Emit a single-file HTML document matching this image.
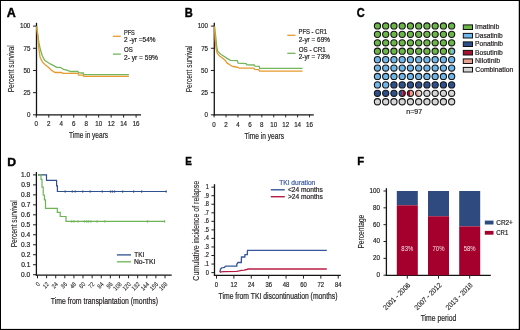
<!DOCTYPE html>
<html><head><meta charset="utf-8"><style>
html,body{margin:0;padding:0;background:#fff;}
svg{display:block;will-change:transform;}
svg{font-family:"Liberation Sans",sans-serif;}
</style></head><body>
<svg width="520" height="330" viewBox="0 0 520 330">
<rect x="0" y="0" width="520" height="330" fill="#000"/>
<rect x="1" y="1" width="517.75" height="327.9" fill="#fff"/>
<text x="6.89" y="16.5" font-size="12.2" font-weight="bold" fill="#000" stroke="#000" stroke-width="0.4" textLength="9.04" lengthAdjust="spacingAndGlyphs">A</text>
<line x1="36.49" y1="22.8" x2="36.49" y2="115.43" stroke="#141414" stroke-width="1.3"/>
<line x1="35.89" y1="114.83" x2="141" y2="114.83" stroke="#141414" stroke-width="1.3"/>
<line x1="33" y1="114.83" x2="36.49" y2="114.83" stroke="#231f20" stroke-width="1"/>
<text x="26.88" y="117.13" font-size="7.6" fill="#231f20" stroke="#231f20" stroke-width="0.2" textLength="3.47" lengthAdjust="spacingAndGlyphs">0</text>
<line x1="33" y1="92.65" x2="36.49" y2="92.65" stroke="#231f20" stroke-width="1"/>
<text x="23.43" y="94.95" font-size="7.6" fill="#231f20" stroke="#231f20" stroke-width="0.2" textLength="6.93" lengthAdjust="spacingAndGlyphs">25</text>
<line x1="33" y1="70.47" x2="36.49" y2="70.47" stroke="#231f20" stroke-width="1"/>
<text x="23.41" y="72.77" font-size="7.6" fill="#231f20" stroke="#231f20" stroke-width="0.2" textLength="6.93" lengthAdjust="spacingAndGlyphs">50</text>
<line x1="33" y1="48.28" x2="36.49" y2="48.28" stroke="#231f20" stroke-width="1"/>
<text x="23.43" y="50.58" font-size="7.6" fill="#231f20" stroke="#231f20" stroke-width="0.2" textLength="6.93" lengthAdjust="spacingAndGlyphs">75</text>
<line x1="33" y1="26.1" x2="36.49" y2="26.1" stroke="#231f20" stroke-width="1"/>
<text x="19.95" y="28.4" font-size="7.6" fill="#231f20" stroke="#231f20" stroke-width="0.2" textLength="10.4" lengthAdjust="spacingAndGlyphs">100</text>
<line x1="36.3" y1="114.83" x2="36.3" y2="117.6" stroke="#231f20" stroke-width="1"/>
<text x="34.57" y="126.3" font-size="7.6" fill="#231f20" stroke="#231f20" stroke-width="0.2" textLength="3.47" lengthAdjust="spacingAndGlyphs">0</text>
<line x1="48.77" y1="114.83" x2="48.77" y2="117.6" stroke="#231f20" stroke-width="1"/>
<text x="47.04" y="126.3" font-size="7.6" fill="#231f20" stroke="#231f20" stroke-width="0.2" textLength="3.47" lengthAdjust="spacingAndGlyphs">2</text>
<line x1="61.25" y1="114.83" x2="61.25" y2="117.6" stroke="#231f20" stroke-width="1"/>
<text x="59.52" y="126.3" font-size="7.6" fill="#231f20" stroke="#231f20" stroke-width="0.2" textLength="3.47" lengthAdjust="spacingAndGlyphs">4</text>
<line x1="73.72" y1="114.83" x2="73.72" y2="117.6" stroke="#231f20" stroke-width="1"/>
<text x="71.99" y="126.3" font-size="7.6" fill="#231f20" stroke="#231f20" stroke-width="0.2" textLength="3.47" lengthAdjust="spacingAndGlyphs">6</text>
<line x1="86.2" y1="114.83" x2="86.2" y2="117.6" stroke="#231f20" stroke-width="1"/>
<text x="84.47" y="126.3" font-size="7.6" fill="#231f20" stroke="#231f20" stroke-width="0.2" textLength="3.47" lengthAdjust="spacingAndGlyphs">8</text>
<line x1="98.67" y1="114.83" x2="98.67" y2="117.6" stroke="#231f20" stroke-width="1"/>
<text x="95.21" y="126.3" font-size="7.6" fill="#231f20" stroke="#231f20" stroke-width="0.2" textLength="6.93" lengthAdjust="spacingAndGlyphs">10</text>
<line x1="111.15" y1="114.83" x2="111.15" y2="117.6" stroke="#231f20" stroke-width="1"/>
<text x="107.68" y="126.3" font-size="7.6" fill="#231f20" stroke="#231f20" stroke-width="0.2" textLength="6.93" lengthAdjust="spacingAndGlyphs">12</text>
<line x1="123.62" y1="114.83" x2="123.62" y2="117.6" stroke="#231f20" stroke-width="1"/>
<text x="120.16" y="126.3" font-size="7.6" fill="#231f20" stroke="#231f20" stroke-width="0.2" textLength="6.93" lengthAdjust="spacingAndGlyphs">14</text>
<line x1="136.1" y1="114.83" x2="136.1" y2="117.6" stroke="#231f20" stroke-width="1"/>
<text x="132.63" y="126.3" font-size="7.6" fill="#231f20" stroke="#231f20" stroke-width="0.2" textLength="6.93" lengthAdjust="spacingAndGlyphs">16</text>
<text x="69.05" y="138.4" font-size="8.7" fill="#231f20" stroke="#231f20" stroke-width="0.2" textLength="39.08" lengthAdjust="spacingAndGlyphs">Time in years</text>
<text transform="translate(14.4,92.34) rotate(-90)" x="0" y="0" font-size="8.8" fill="#231f20" stroke="#231f20" stroke-width="0.12" textLength="47.09" lengthAdjust="spacingAndGlyphs">Percent survival</text>
<line x1="112.9" y1="36.3" x2="120.8" y2="36.3" stroke="#e89a2c" stroke-width="1.3"/>
<line x1="112.9" y1="54.1" x2="120.8" y2="54.1" stroke="#74b55c" stroke-width="1.3"/>
<text x="123.94" y="34.5" font-size="6.6" fill="#231f20" stroke="#231f20" stroke-width="0.2" textLength="10.92" lengthAdjust="spacingAndGlyphs">PFS</text>
<text x="124.07" y="42.4" font-size="6.6" fill="#231f20" stroke="#231f20" stroke-width="0.2" textLength="31.46" lengthAdjust="spacingAndGlyphs">2 -yr =54%</text>
<text x="124.11" y="52" font-size="6.6" fill="#231f20" stroke="#231f20" stroke-width="0.2" textLength="8.77" lengthAdjust="spacingAndGlyphs">OS</text>
<text x="124.07" y="60.2" font-size="6.6" fill="#231f20" stroke="#231f20" stroke-width="0.2" textLength="33.87" lengthAdjust="spacingAndGlyphs">2- yr = 59%</text>
<path d="M36.5 26.5 L36.7 26.7 L37.8 34.6 L38.8 42.2 L40.4 49.8 L42.3 55.8 L44.6 60.4 L47.6 62.2 L50.7 64.2 L53.7 65.7 L55.5 66.6 L56.7 67.3 L60.1 67.3 L63.5 69.4 L66.8 70.2 L70.7 71.5 L77.9 71.5 L78.8 72.8 L83.2 73 L83.8 74.7 L128.9 74.7" fill="none" stroke="#74b55c" stroke-width="1.3" stroke-linejoin="miter"/>
<path d="M36.5 26.5 L36.7 26.7 L37.8 37.6 L38.8 48.2 L40.1 57.3 L42.3 61.9 L45.4 64.9 L48.4 67.2 L51.4 70.2 L55.2 72.5 L61.5 72.5 L63 73.4 L77.9 73.4 L78.8 75.2 L83.2 75.2 L83.7 76.3 L128.9 76.3" fill="none" stroke="#e89a2c" stroke-width="1.3" stroke-linejoin="miter"/>
<text x="184.65" y="16.5" font-size="12.2" font-weight="bold" fill="#000" stroke="#000" stroke-width="0.4" textLength="8.05" lengthAdjust="spacingAndGlyphs">B</text>
<line x1="214.28" y1="22.8" x2="214.28" y2="115.43" stroke="#141414" stroke-width="1.3"/>
<line x1="213.68" y1="114.83" x2="313.8" y2="114.83" stroke="#141414" stroke-width="1.3"/>
<line x1="210.9" y1="114.83" x2="214.28" y2="114.83" stroke="#231f20" stroke-width="1"/>
<text x="204.58" y="117.13" font-size="7.6" fill="#231f20" stroke="#231f20" stroke-width="0.2" textLength="3.47" lengthAdjust="spacingAndGlyphs">0</text>
<line x1="210.9" y1="92.65" x2="214.28" y2="92.65" stroke="#231f20" stroke-width="1"/>
<text x="201.13" y="94.95" font-size="7.6" fill="#231f20" stroke="#231f20" stroke-width="0.2" textLength="6.93" lengthAdjust="spacingAndGlyphs">25</text>
<line x1="210.9" y1="70.47" x2="214.28" y2="70.47" stroke="#231f20" stroke-width="1"/>
<text x="201.11" y="72.77" font-size="7.6" fill="#231f20" stroke="#231f20" stroke-width="0.2" textLength="6.93" lengthAdjust="spacingAndGlyphs">50</text>
<line x1="210.9" y1="48.28" x2="214.28" y2="48.28" stroke="#231f20" stroke-width="1"/>
<text x="201.13" y="50.58" font-size="7.6" fill="#231f20" stroke="#231f20" stroke-width="0.2" textLength="6.93" lengthAdjust="spacingAndGlyphs">75</text>
<line x1="210.9" y1="26.1" x2="214.28" y2="26.1" stroke="#231f20" stroke-width="1"/>
<text x="197.65" y="28.4" font-size="7.6" fill="#231f20" stroke="#231f20" stroke-width="0.2" textLength="10.4" lengthAdjust="spacingAndGlyphs">100</text>
<line x1="214.1" y1="114.83" x2="214.1" y2="117.3" stroke="#231f20" stroke-width="1"/>
<text x="212.37" y="126.6" font-size="7.6" fill="#231f20" stroke="#231f20" stroke-width="0.2" textLength="3.47" lengthAdjust="spacingAndGlyphs">0</text>
<line x1="226.03" y1="114.83" x2="226.03" y2="117.3" stroke="#231f20" stroke-width="1"/>
<text x="224.3" y="126.6" font-size="7.6" fill="#231f20" stroke="#231f20" stroke-width="0.2" textLength="3.47" lengthAdjust="spacingAndGlyphs">2</text>
<line x1="237.96" y1="114.83" x2="237.96" y2="117.3" stroke="#231f20" stroke-width="1"/>
<text x="236.23" y="126.6" font-size="7.6" fill="#231f20" stroke="#231f20" stroke-width="0.2" textLength="3.47" lengthAdjust="spacingAndGlyphs">4</text>
<line x1="249.89" y1="114.83" x2="249.89" y2="117.3" stroke="#231f20" stroke-width="1"/>
<text x="248.16" y="126.6" font-size="7.6" fill="#231f20" stroke="#231f20" stroke-width="0.2" textLength="3.47" lengthAdjust="spacingAndGlyphs">6</text>
<line x1="261.82" y1="114.83" x2="261.82" y2="117.3" stroke="#231f20" stroke-width="1"/>
<text x="260.09" y="126.6" font-size="7.6" fill="#231f20" stroke="#231f20" stroke-width="0.2" textLength="3.47" lengthAdjust="spacingAndGlyphs">8</text>
<line x1="273.75" y1="114.83" x2="273.75" y2="117.3" stroke="#231f20" stroke-width="1"/>
<text x="270.28" y="126.6" font-size="7.6" fill="#231f20" stroke="#231f20" stroke-width="0.2" textLength="6.93" lengthAdjust="spacingAndGlyphs">10</text>
<line x1="285.68" y1="114.83" x2="285.68" y2="117.3" stroke="#231f20" stroke-width="1"/>
<text x="282.21" y="126.6" font-size="7.6" fill="#231f20" stroke="#231f20" stroke-width="0.2" textLength="6.93" lengthAdjust="spacingAndGlyphs">12</text>
<line x1="297.61" y1="114.83" x2="297.61" y2="117.3" stroke="#231f20" stroke-width="1"/>
<text x="294.14" y="126.6" font-size="7.6" fill="#231f20" stroke="#231f20" stroke-width="0.2" textLength="6.93" lengthAdjust="spacingAndGlyphs">14</text>
<line x1="309.54" y1="114.83" x2="309.54" y2="117.3" stroke="#231f20" stroke-width="1"/>
<text x="306.07" y="126.6" font-size="7.6" fill="#231f20" stroke="#231f20" stroke-width="0.2" textLength="6.93" lengthAdjust="spacingAndGlyphs">16</text>
<text x="244.45" y="138.5" font-size="8.7" fill="#231f20" stroke="#231f20" stroke-width="0.2" textLength="39.54" lengthAdjust="spacingAndGlyphs">Time in years</text>
<text transform="translate(192.1,92.34) rotate(-90)" x="0" y="0" font-size="8.8" fill="#231f20" stroke="#231f20" stroke-width="0.12" textLength="46.78" lengthAdjust="spacingAndGlyphs">Percent survival</text>
<line x1="287.3" y1="35.3" x2="295.5" y2="35.3" stroke="#e89a2c" stroke-width="1.3"/>
<line x1="287.3" y1="53.3" x2="295.5" y2="53.3" stroke="#74b55c" stroke-width="1.3"/>
<text x="298.52" y="33.9" font-size="6.6" fill="#231f20" stroke="#231f20" stroke-width="0.2" textLength="28.47" lengthAdjust="spacingAndGlyphs">PFS - CR1</text>
<text x="298.68" y="42" font-size="6.6" fill="#231f20" stroke="#231f20" stroke-width="0.2" textLength="31.25" lengthAdjust="spacingAndGlyphs">2-yr = 69%</text>
<text x="298.7" y="51.5" font-size="6.6" fill="#231f20" stroke="#231f20" stroke-width="0.2" textLength="27.1" lengthAdjust="spacingAndGlyphs">OS - CR1</text>
<text x="298.68" y="59" font-size="6.6" fill="#231f20" stroke="#231f20" stroke-width="0.2" textLength="31.25" lengthAdjust="spacingAndGlyphs">2-yr = 73%</text>
<path d="M214.5 26.5 L215.4 33.5 L216.1 40.4 L216.8 47.2 L217.7 51.3 L219.5 53.3 L221.5 54.7 L224.3 56.5 L227 58.4 L230.4 60.3 L237.3 60.6 L238.1 63.1 L246.2 63.6 L246.9 64.8 L254.2 65 L255 66.2 L259.2 66.3 L259.6 68.3 L302.5 68.3" fill="none" stroke="#74b55c" stroke-width="1.3" stroke-linejoin="miter"/>
<path d="M214.5 26.5 L215 37.6 L216.1 48.6 L217.2 53.3 L219.5 56 L222.2 57.8 L225 60.2 L227 62.9 L229.7 64.7 L232.3 66.5 L235.9 67 L238.1 67.3 L239.2 68.2 L253.8 68.2 L254.6 69.4 L258.8 69.6 L259.6 71.2 L302.5 71.2" fill="none" stroke="#e89a2c" stroke-width="1.3" stroke-linejoin="miter"/>
<text x="356.85" y="16.7" font-size="12.2" font-weight="bold" fill="#000" stroke="#000" stroke-width="0.4" textLength="7.95" lengthAdjust="spacingAndGlyphs">C</text>
<circle cx="377.45" cy="25.95" r="3.1" fill="#6ab647" stroke="#161616" stroke-width="1.1"/>
<circle cx="385.69" cy="25.95" r="3.1" fill="#6ab647" stroke="#161616" stroke-width="1.1"/>
<circle cx="393.94" cy="25.95" r="3.1" fill="#6ab647" stroke="#161616" stroke-width="1.1"/>
<circle cx="402.19" cy="25.95" r="3.1" fill="#6ab647" stroke="#161616" stroke-width="1.1"/>
<circle cx="410.43" cy="25.95" r="3.1" fill="#6ab647" stroke="#161616" stroke-width="1.1"/>
<circle cx="418.67" cy="25.95" r="3.1" fill="#6ab647" stroke="#161616" stroke-width="1.1"/>
<circle cx="426.92" cy="25.95" r="3.1" fill="#6ab647" stroke="#161616" stroke-width="1.1"/>
<circle cx="435.16" cy="25.95" r="3.1" fill="#6ab647" stroke="#161616" stroke-width="1.1"/>
<circle cx="443.41" cy="25.95" r="3.1" fill="#6ab647" stroke="#161616" stroke-width="1.1"/>
<circle cx="451.65" cy="25.95" r="3.1" fill="#6ab647" stroke="#161616" stroke-width="1.1"/>
<circle cx="377.45" cy="34.37" r="3.1" fill="#6ab647" stroke="#161616" stroke-width="1.1"/>
<circle cx="385.69" cy="34.37" r="3.1" fill="#6ab647" stroke="#161616" stroke-width="1.1"/>
<circle cx="393.94" cy="34.37" r="3.1" fill="#6ab647" stroke="#161616" stroke-width="1.1"/>
<circle cx="402.19" cy="34.37" r="3.1" fill="#6ab647" stroke="#161616" stroke-width="1.1"/>
<circle cx="410.43" cy="34.37" r="3.1" fill="#6ab647" stroke="#161616" stroke-width="1.1"/>
<circle cx="418.67" cy="34.37" r="3.1" fill="#6ab647" stroke="#161616" stroke-width="1.1"/>
<circle cx="426.92" cy="34.37" r="3.1" fill="#6ab647" stroke="#161616" stroke-width="1.1"/>
<circle cx="435.16" cy="34.37" r="3.1" fill="#6ab647" stroke="#161616" stroke-width="1.1"/>
<circle cx="443.41" cy="34.37" r="3.1" fill="#6ab647" stroke="#161616" stroke-width="1.1"/>
<circle cx="451.65" cy="34.37" r="3.1" fill="#6ab647" stroke="#161616" stroke-width="1.1"/>
<circle cx="377.45" cy="42.79" r="3.1" fill="#6ab647" stroke="#161616" stroke-width="1.1"/>
<circle cx="385.69" cy="42.79" r="3.1" fill="#6ab647" stroke="#161616" stroke-width="1.1"/>
<circle cx="393.94" cy="42.79" r="3.1" fill="#6ab647" stroke="#161616" stroke-width="1.1"/>
<circle cx="402.19" cy="42.79" r="3.1" fill="#6ab647" stroke="#161616" stroke-width="1.1"/>
<circle cx="410.43" cy="42.79" r="3.1" fill="#6ab647" stroke="#161616" stroke-width="1.1"/>
<circle cx="418.67" cy="42.79" r="3.1" fill="#6ab647" stroke="#161616" stroke-width="1.1"/>
<circle cx="426.92" cy="42.79" r="3.1" fill="#6ab647" stroke="#161616" stroke-width="1.1"/>
<circle cx="435.16" cy="42.79" r="3.1" fill="#6ab647" stroke="#161616" stroke-width="1.1"/>
<circle cx="443.41" cy="42.79" r="3.1" fill="#6ab647" stroke="#161616" stroke-width="1.1"/>
<circle cx="451.65" cy="42.79" r="3.1" fill="#6ab647" stroke="#161616" stroke-width="1.1"/>
<circle cx="377.45" cy="51.21" r="3.1" fill="#6ab647" stroke="#161616" stroke-width="1.1"/>
<circle cx="385.69" cy="51.21" r="3.1" fill="#6ab647" stroke="#161616" stroke-width="1.1"/>
<circle cx="393.94" cy="51.21" r="3.1" fill="#6ab647" stroke="#161616" stroke-width="1.1"/>
<circle cx="402.19" cy="51.21" r="3.1" fill="#6ab647" stroke="#161616" stroke-width="1.1"/>
<circle cx="410.43" cy="51.21" r="3.1" fill="#6ab647" stroke="#161616" stroke-width="1.1"/>
<circle cx="418.67" cy="51.21" r="3.1" fill="#6ab647" stroke="#161616" stroke-width="1.1"/>
<circle cx="426.92" cy="51.21" r="3.1" fill="#6ab647" stroke="#161616" stroke-width="1.1"/>
<circle cx="435.16" cy="51.21" r="3.1" fill="#6ab647" stroke="#161616" stroke-width="1.1"/>
<circle cx="443.41" cy="51.21" r="3.1" fill="#6ab647" stroke="#161616" stroke-width="1.1"/>
<path d="M451.65 48.11 A3.1 3.1 0 0 0 451.65 54.31 Z" fill="#6ab647"/>
<path d="M451.65 48.11 A3.1 3.1 0 0 1 451.65 54.31 Z" fill="#6fb6ea"/>
<circle cx="451.65" cy="51.21" r="3.1" fill="none" stroke="#161616" stroke-width="1.1"/>
<circle cx="377.45" cy="59.63" r="3.1" fill="#6fb6ea" stroke="#161616" stroke-width="1.1"/>
<circle cx="385.69" cy="59.63" r="3.1" fill="#6fb6ea" stroke="#161616" stroke-width="1.1"/>
<circle cx="393.94" cy="59.63" r="3.1" fill="#6fb6ea" stroke="#161616" stroke-width="1.1"/>
<circle cx="402.19" cy="59.63" r="3.1" fill="#6fb6ea" stroke="#161616" stroke-width="1.1"/>
<circle cx="410.43" cy="59.63" r="3.1" fill="#6fb6ea" stroke="#161616" stroke-width="1.1"/>
<circle cx="418.67" cy="59.63" r="3.1" fill="#6fb6ea" stroke="#161616" stroke-width="1.1"/>
<circle cx="426.92" cy="59.63" r="3.1" fill="#6fb6ea" stroke="#161616" stroke-width="1.1"/>
<circle cx="435.16" cy="59.63" r="3.1" fill="#6fb6ea" stroke="#161616" stroke-width="1.1"/>
<circle cx="443.41" cy="59.63" r="3.1" fill="#6fb6ea" stroke="#161616" stroke-width="1.1"/>
<circle cx="451.65" cy="59.63" r="3.1" fill="#6fb6ea" stroke="#161616" stroke-width="1.1"/>
<circle cx="377.45" cy="68.05" r="3.1" fill="#6fb6ea" stroke="#161616" stroke-width="1.1"/>
<circle cx="385.69" cy="68.05" r="3.1" fill="#6fb6ea" stroke="#161616" stroke-width="1.1"/>
<circle cx="393.94" cy="68.05" r="3.1" fill="#6fb6ea" stroke="#161616" stroke-width="1.1"/>
<circle cx="402.19" cy="68.05" r="3.1" fill="#6fb6ea" stroke="#161616" stroke-width="1.1"/>
<circle cx="410.43" cy="68.05" r="3.1" fill="#6fb6ea" stroke="#161616" stroke-width="1.1"/>
<circle cx="418.67" cy="68.05" r="3.1" fill="#6fb6ea" stroke="#161616" stroke-width="1.1"/>
<circle cx="426.92" cy="68.05" r="3.1" fill="#6fb6ea" stroke="#161616" stroke-width="1.1"/>
<circle cx="435.16" cy="68.05" r="3.1" fill="#6fb6ea" stroke="#161616" stroke-width="1.1"/>
<circle cx="443.41" cy="68.05" r="3.1" fill="#6fb6ea" stroke="#161616" stroke-width="1.1"/>
<circle cx="451.65" cy="68.05" r="3.1" fill="#6fb6ea" stroke="#161616" stroke-width="1.1"/>
<circle cx="377.45" cy="76.47" r="3.1" fill="#6fb6ea" stroke="#161616" stroke-width="1.1"/>
<circle cx="385.69" cy="76.47" r="3.1" fill="#6fb6ea" stroke="#161616" stroke-width="1.1"/>
<circle cx="393.94" cy="76.47" r="3.1" fill="#6fb6ea" stroke="#161616" stroke-width="1.1"/>
<circle cx="402.19" cy="76.47" r="3.1" fill="#6fb6ea" stroke="#161616" stroke-width="1.1"/>
<circle cx="410.43" cy="76.47" r="3.1" fill="#6fb6ea" stroke="#161616" stroke-width="1.1"/>
<circle cx="418.67" cy="76.47" r="3.1" fill="#6fb6ea" stroke="#161616" stroke-width="1.1"/>
<circle cx="426.92" cy="76.47" r="3.1" fill="#6fb6ea" stroke="#161616" stroke-width="1.1"/>
<circle cx="435.16" cy="76.47" r="3.1" fill="#6fb6ea" stroke="#161616" stroke-width="1.1"/>
<circle cx="443.41" cy="76.47" r="3.1" fill="#6fb6ea" stroke="#161616" stroke-width="1.1"/>
<circle cx="451.65" cy="76.47" r="3.1" fill="#6fb6ea" stroke="#161616" stroke-width="1.1"/>
<circle cx="377.45" cy="84.89" r="3.1" fill="#6fb6ea" stroke="#161616" stroke-width="1.1"/>
<circle cx="385.69" cy="84.89" r="3.1" fill="#6fb6ea" stroke="#161616" stroke-width="1.1"/>
<circle cx="393.94" cy="84.89" r="3.1" fill="#2d4f8c" stroke="#161616" stroke-width="1.1"/>
<circle cx="402.19" cy="84.89" r="3.1" fill="#2d4f8c" stroke="#161616" stroke-width="1.1"/>
<circle cx="410.43" cy="84.89" r="3.1" fill="#2d4f8c" stroke="#161616" stroke-width="1.1"/>
<circle cx="418.67" cy="84.89" r="3.1" fill="#2d4f8c" stroke="#161616" stroke-width="1.1"/>
<circle cx="426.92" cy="84.89" r="3.1" fill="#2d4f8c" stroke="#161616" stroke-width="1.1"/>
<circle cx="435.16" cy="84.89" r="3.1" fill="#2d4f8c" stroke="#161616" stroke-width="1.1"/>
<circle cx="443.41" cy="84.89" r="3.1" fill="#2d4f8c" stroke="#161616" stroke-width="1.1"/>
<circle cx="451.65" cy="84.89" r="3.1" fill="#2d4f8c" stroke="#161616" stroke-width="1.1"/>
<circle cx="377.45" cy="93.31" r="3.1" fill="#2d4f8c" stroke="#161616" stroke-width="1.1"/>
<circle cx="385.69" cy="93.31" r="3.1" fill="#2d4f8c" stroke="#161616" stroke-width="1.1"/>
<circle cx="393.94" cy="93.31" r="3.1" fill="#2d4f8c" stroke="#161616" stroke-width="1.1"/>
<path d="M402.19 90.21 A3.1 3.1 0 0 0 402.19 96.41 Z" fill="#2d4f8c"/>
<path d="M402.19 90.21 A3.1 3.1 0 0 1 402.19 96.41 Z" fill="#a8102f"/>
<circle cx="402.19" cy="93.31" r="3.1" fill="none" stroke="#161616" stroke-width="1.1"/>
<path d="M410.43 90.21 A3.1 3.1 0 0 0 410.43 96.41 Z" fill="#a8102f"/>
<path d="M410.43 90.21 A3.1 3.1 0 0 1 410.43 96.41 Z" fill="#e8a090"/>
<circle cx="410.43" cy="93.31" r="3.1" fill="none" stroke="#161616" stroke-width="1.1"/>
<path d="M418.67 90.21 A3.1 3.1 0 0 0 418.67 96.41 Z" fill="#e8a090"/>
<path d="M418.67 90.21 A3.1 3.1 0 0 1 418.67 96.41 Z" fill="#d6d6d8"/>
<circle cx="418.67" cy="93.31" r="3.1" fill="none" stroke="#161616" stroke-width="1.1"/>
<circle cx="426.92" cy="93.31" r="3.1" fill="#d6d6d8" stroke="#161616" stroke-width="1.1"/>
<circle cx="435.16" cy="93.31" r="3.1" fill="#d6d6d8" stroke="#161616" stroke-width="1.1"/>
<circle cx="443.41" cy="93.31" r="3.1" fill="#d6d6d8" stroke="#161616" stroke-width="1.1"/>
<circle cx="451.65" cy="93.31" r="3.1" fill="#d6d6d8" stroke="#161616" stroke-width="1.1"/>
<circle cx="377.45" cy="101.73" r="3.1" fill="#d6d6d8" stroke="#161616" stroke-width="1.1"/>
<circle cx="385.69" cy="101.73" r="3.1" fill="#d6d6d8" stroke="#161616" stroke-width="1.1"/>
<circle cx="393.94" cy="101.73" r="3.1" fill="#d6d6d8" stroke="#161616" stroke-width="1.1"/>
<circle cx="402.19" cy="101.73" r="3.1" fill="#d6d6d8" stroke="#161616" stroke-width="1.1"/>
<circle cx="410.43" cy="101.73" r="3.1" fill="#d6d6d8" stroke="#161616" stroke-width="1.1"/>
<circle cx="418.67" cy="101.73" r="3.1" fill="#d6d6d8" stroke="#161616" stroke-width="1.1"/>
<circle cx="426.92" cy="101.73" r="3.1" fill="#d6d6d8" stroke="#161616" stroke-width="1.1"/>
<circle cx="435.16" cy="101.73" r="3.1" fill="#d6d6d8" stroke="#161616" stroke-width="1.1"/>
<circle cx="443.41" cy="101.73" r="3.1" fill="#d6d6d8" stroke="#161616" stroke-width="1.1"/>
<circle cx="451.65" cy="101.73" r="3.1" fill="#d6d6d8" stroke="#161616" stroke-width="1.1"/>
<text x="406.33" y="113.6" font-size="6.8" fill="#231f20" stroke="#231f20" stroke-width="0.2" textLength="15.82" lengthAdjust="spacingAndGlyphs">n=97</text>
<rect x="463.3" y="24.9" width="9.2" height="4.6" fill="#6ab647" stroke="#111" stroke-width="1"/>
<text x="474.96" y="29.2" font-size="7" fill="#231f20" stroke="#231f20" stroke-width="0.2" textLength="24.33" lengthAdjust="spacingAndGlyphs">Imatinib</text>
<rect x="463.3" y="33.4" width="9.2" height="4.6" fill="#6fb6ea" stroke="#111" stroke-width="1"/>
<text x="475.06" y="37.7" font-size="7" fill="#231f20" stroke="#231f20" stroke-width="0.2" textLength="27.62" lengthAdjust="spacingAndGlyphs">Dasatinib</text>
<rect x="463.3" y="41.9" width="9.2" height="4.6" fill="#2d4f8c" stroke="#111" stroke-width="1"/>
<text x="475.05" y="46.2" font-size="7" fill="#231f20" stroke="#231f20" stroke-width="0.2" textLength="28.03" lengthAdjust="spacingAndGlyphs">Ponatinib</text>
<rect x="463.3" y="50.4" width="9.2" height="4.6" fill="#a8102f" stroke="#111" stroke-width="1"/>
<text x="475.05" y="54.7" font-size="7" fill="#231f20" stroke="#231f20" stroke-width="0.2" textLength="27.63" lengthAdjust="spacingAndGlyphs">Bosutinib</text>
<rect x="463.3" y="58.9" width="9.2" height="4.6" fill="#e8a090" stroke="#111" stroke-width="1"/>
<text x="475.02" y="63.2" font-size="7" fill="#231f20" stroke="#231f20" stroke-width="0.2" textLength="25.07" lengthAdjust="spacingAndGlyphs">Nilotinib</text>
<rect x="463.3" y="67.4" width="9.2" height="4.6" fill="#d6d6d8" stroke="#111" stroke-width="1"/>
<text x="475.26" y="71.7" font-size="7" fill="#231f20" stroke="#231f20" stroke-width="0.2" textLength="37.98" lengthAdjust="spacingAndGlyphs">Combination</text>
<text x="7.28" y="165.6" font-size="11.8" font-weight="bold" fill="#000" stroke="#000" stroke-width="0.4" textLength="8.83" lengthAdjust="spacingAndGlyphs">D</text>
<line x1="36.4" y1="172" x2="36.4" y2="275.8" stroke="#141414" stroke-width="1.3"/>
<line x1="35.8" y1="275.2" x2="171.7" y2="275.2" stroke="#141414" stroke-width="1.3"/>
<line x1="33" y1="274.7" x2="36.4" y2="274.7" stroke="#231f20" stroke-width="1"/>
<text x="21.08" y="277" font-size="6.6" fill="#231f20" stroke="#231f20" stroke-width="0.2" textLength="9.17" lengthAdjust="spacingAndGlyphs">0.0</text>
<line x1="33" y1="264.72" x2="36.4" y2="264.72" stroke="#231f20" stroke-width="1"/>
<text x="21.15" y="267.02" font-size="6.6" fill="#231f20" stroke="#231f20" stroke-width="0.2" textLength="9.17" lengthAdjust="spacingAndGlyphs">0.1</text>
<line x1="33" y1="254.74" x2="36.4" y2="254.74" stroke="#231f20" stroke-width="1"/>
<text x="21.16" y="257.04" font-size="6.6" fill="#231f20" stroke="#231f20" stroke-width="0.2" textLength="9.17" lengthAdjust="spacingAndGlyphs">0.2</text>
<line x1="33" y1="244.76" x2="36.4" y2="244.76" stroke="#231f20" stroke-width="1"/>
<text x="21.12" y="247.06" font-size="6.6" fill="#231f20" stroke="#231f20" stroke-width="0.2" textLength="9.17" lengthAdjust="spacingAndGlyphs">0.3</text>
<line x1="33" y1="234.78" x2="36.4" y2="234.78" stroke="#231f20" stroke-width="1"/>
<text x="21.02" y="237.08" font-size="6.6" fill="#231f20" stroke="#231f20" stroke-width="0.2" textLength="9.17" lengthAdjust="spacingAndGlyphs">0.4</text>
<line x1="33" y1="224.8" x2="36.4" y2="224.8" stroke="#231f20" stroke-width="1"/>
<text x="21.1" y="227.1" font-size="6.6" fill="#231f20" stroke="#231f20" stroke-width="0.2" textLength="9.17" lengthAdjust="spacingAndGlyphs">0.5</text>
<line x1="33" y1="214.82" x2="36.4" y2="214.82" stroke="#231f20" stroke-width="1"/>
<text x="21.12" y="217.12" font-size="6.6" fill="#231f20" stroke="#231f20" stroke-width="0.2" textLength="9.17" lengthAdjust="spacingAndGlyphs">0.6</text>
<line x1="33" y1="204.84" x2="36.4" y2="204.84" stroke="#231f20" stroke-width="1"/>
<text x="21.16" y="207.14" font-size="6.6" fill="#231f20" stroke="#231f20" stroke-width="0.2" textLength="9.17" lengthAdjust="spacingAndGlyphs">0.7</text>
<line x1="33" y1="194.86" x2="36.4" y2="194.86" stroke="#231f20" stroke-width="1"/>
<text x="21.11" y="197.16" font-size="6.6" fill="#231f20" stroke="#231f20" stroke-width="0.2" textLength="9.17" lengthAdjust="spacingAndGlyphs">0.8</text>
<line x1="33" y1="184.88" x2="36.4" y2="184.88" stroke="#231f20" stroke-width="1"/>
<text x="21.14" y="187.18" font-size="6.6" fill="#231f20" stroke="#231f20" stroke-width="0.2" textLength="9.17" lengthAdjust="spacingAndGlyphs">0.9</text>
<line x1="33" y1="174.9" x2="36.4" y2="174.9" stroke="#231f20" stroke-width="1"/>
<text x="21.08" y="177.2" font-size="6.6" fill="#231f20" stroke="#231f20" stroke-width="0.2" textLength="9.17" lengthAdjust="spacingAndGlyphs">1.0</text>
<line x1="37.5" y1="275.2" x2="37.5" y2="278.3" stroke="#231f20" stroke-width="1"/>
<text transform="translate(40.3,284.6) rotate(-45)" x="0" y="0" font-size="6.4" fill="#231f20" stroke="#231f20" stroke-width="0.08" text-anchor="end" textLength="3.03" lengthAdjust="spacingAndGlyphs">0</text>
<line x1="46.61" y1="275.2" x2="46.61" y2="278.3" stroke="#231f20" stroke-width="1"/>
<text transform="translate(49.41,284.6) rotate(-45)" x="0" y="0" font-size="6.4" fill="#231f20" stroke="#231f20" stroke-width="0.08" text-anchor="end" textLength="6.05" lengthAdjust="spacingAndGlyphs">12</text>
<line x1="55.71" y1="275.2" x2="55.71" y2="278.3" stroke="#231f20" stroke-width="1"/>
<text transform="translate(58.51,284.6) rotate(-45)" x="0" y="0" font-size="6.4" fill="#231f20" stroke="#231f20" stroke-width="0.08" text-anchor="end" textLength="6.05" lengthAdjust="spacingAndGlyphs">24</text>
<line x1="64.82" y1="275.2" x2="64.82" y2="278.3" stroke="#231f20" stroke-width="1"/>
<text transform="translate(67.62,284.6) rotate(-45)" x="0" y="0" font-size="6.4" fill="#231f20" stroke="#231f20" stroke-width="0.08" text-anchor="end" textLength="6.05" lengthAdjust="spacingAndGlyphs">36</text>
<line x1="73.93" y1="275.2" x2="73.93" y2="278.3" stroke="#231f20" stroke-width="1"/>
<text transform="translate(76.73,284.6) rotate(-45)" x="0" y="0" font-size="6.4" fill="#231f20" stroke="#231f20" stroke-width="0.08" text-anchor="end" textLength="6.05" lengthAdjust="spacingAndGlyphs">48</text>
<line x1="83.03" y1="275.2" x2="83.03" y2="278.3" stroke="#231f20" stroke-width="1"/>
<text transform="translate(85.83,284.6) rotate(-45)" x="0" y="0" font-size="6.4" fill="#231f20" stroke="#231f20" stroke-width="0.08" text-anchor="end" textLength="6.05" lengthAdjust="spacingAndGlyphs">60</text>
<line x1="92.14" y1="275.2" x2="92.14" y2="278.3" stroke="#231f20" stroke-width="1"/>
<text transform="translate(94.94,284.6) rotate(-45)" x="0" y="0" font-size="6.4" fill="#231f20" stroke="#231f20" stroke-width="0.08" text-anchor="end" textLength="6.05" lengthAdjust="spacingAndGlyphs">72</text>
<line x1="101.25" y1="275.2" x2="101.25" y2="278.3" stroke="#231f20" stroke-width="1"/>
<text transform="translate(104.05,284.6) rotate(-45)" x="0" y="0" font-size="6.4" fill="#231f20" stroke="#231f20" stroke-width="0.08" text-anchor="end" textLength="6.05" lengthAdjust="spacingAndGlyphs">84</text>
<line x1="110.36" y1="275.2" x2="110.36" y2="278.3" stroke="#231f20" stroke-width="1"/>
<text transform="translate(113.16,284.6) rotate(-45)" x="0" y="0" font-size="6.4" fill="#231f20" stroke="#231f20" stroke-width="0.08" text-anchor="end" textLength="6.05" lengthAdjust="spacingAndGlyphs">96</text>
<line x1="119.46" y1="275.2" x2="119.46" y2="278.3" stroke="#231f20" stroke-width="1"/>
<text transform="translate(122.26,284.6) rotate(-45)" x="0" y="0" font-size="6.4" fill="#231f20" stroke="#231f20" stroke-width="0.08" text-anchor="end" textLength="9.08" lengthAdjust="spacingAndGlyphs">108</text>
<line x1="128.57" y1="275.2" x2="128.57" y2="278.3" stroke="#231f20" stroke-width="1"/>
<text transform="translate(131.37,284.6) rotate(-45)" x="0" y="0" font-size="6.4" fill="#231f20" stroke="#231f20" stroke-width="0.08" text-anchor="end" textLength="9.08" lengthAdjust="spacingAndGlyphs">120</text>
<line x1="137.68" y1="275.2" x2="137.68" y2="278.3" stroke="#231f20" stroke-width="1"/>
<text transform="translate(140.48,284.6) rotate(-45)" x="0" y="0" font-size="6.4" fill="#231f20" stroke="#231f20" stroke-width="0.08" text-anchor="end" textLength="9.08" lengthAdjust="spacingAndGlyphs">132</text>
<line x1="146.78" y1="275.2" x2="146.78" y2="278.3" stroke="#231f20" stroke-width="1"/>
<text transform="translate(149.58,284.6) rotate(-45)" x="0" y="0" font-size="6.4" fill="#231f20" stroke="#231f20" stroke-width="0.08" text-anchor="end" textLength="9.08" lengthAdjust="spacingAndGlyphs">144</text>
<line x1="155.89" y1="275.2" x2="155.89" y2="278.3" stroke="#231f20" stroke-width="1"/>
<text transform="translate(158.69,284.6) rotate(-45)" x="0" y="0" font-size="6.4" fill="#231f20" stroke="#231f20" stroke-width="0.08" text-anchor="end" textLength="9.08" lengthAdjust="spacingAndGlyphs">156</text>
<line x1="165" y1="275.2" x2="165" y2="278.3" stroke="#231f20" stroke-width="1"/>
<text transform="translate(167.8,284.6) rotate(-45)" x="0" y="0" font-size="6.4" fill="#231f20" stroke="#231f20" stroke-width="0.08" text-anchor="end" textLength="9.08" lengthAdjust="spacingAndGlyphs">168</text>
<text x="50.75" y="304" font-size="8.5" fill="#231f20" stroke="#231f20" stroke-width="0.2" textLength="107.28" lengthAdjust="spacingAndGlyphs">Time from transplantation (months)</text>
<text transform="translate(16.6,247.34) rotate(-90)" x="0" y="0" font-size="8.8" fill="#231f20" stroke="#231f20" stroke-width="0.12" textLength="47.09" lengthAdjust="spacingAndGlyphs">Percent survival</text>
<path d="M38 174.8 L46.5 174.8 L46.5 180.3 L56.6 180.3 L56.6 185.8 L57.4 185.8 L57.4 191.5 L166.3 191.5 L166.3 191.5" fill="none" stroke="#2f4f8f" stroke-width="1.2" stroke-linejoin="miter"/>
<line x1="65.2" y1="190.5" x2="65.2" y2="192.6" stroke="#2f4f8f" stroke-width="1.3"/>
<line x1="72.3" y1="190.5" x2="72.3" y2="192.6" stroke="#2f4f8f" stroke-width="1.3"/>
<line x1="75.2" y1="190.5" x2="75.2" y2="192.6" stroke="#2f4f8f" stroke-width="1.3"/>
<line x1="82.7" y1="190.5" x2="82.7" y2="192.6" stroke="#2f4f8f" stroke-width="1.3"/>
<line x1="90.2" y1="190.5" x2="90.2" y2="192.6" stroke="#2f4f8f" stroke-width="1.3"/>
<line x1="102.3" y1="190.5" x2="102.3" y2="192.6" stroke="#2f4f8f" stroke-width="1.3"/>
<line x1="110.5" y1="190.5" x2="110.5" y2="192.6" stroke="#2f4f8f" stroke-width="1.3"/>
<line x1="112.5" y1="190.5" x2="112.5" y2="192.6" stroke="#2f4f8f" stroke-width="1.3"/>
<line x1="114.6" y1="190.5" x2="114.6" y2="192.6" stroke="#2f4f8f" stroke-width="1.3"/>
<line x1="122.6" y1="190.5" x2="122.6" y2="192.6" stroke="#2f4f8f" stroke-width="1.3"/>
<line x1="133.6" y1="190.5" x2="133.6" y2="192.6" stroke="#2f4f8f" stroke-width="1.3"/>
<line x1="141.6" y1="190.5" x2="141.6" y2="192.6" stroke="#2f4f8f" stroke-width="1.3"/>
<line x1="166.2" y1="190.5" x2="166.2" y2="192.6" stroke="#2f4f8f" stroke-width="1.3"/>
<path d="M38 174.8 L41 174.8 L41 179.3 L42 179.3 L42 187.2 L43.2 187.2 L43.2 195 L44.4 195 L44.4 199.9 L45.5 199.9 L45.5 208.3 L57.3 208.3 L57.3 212.4 L60.2 212.4 L60.2 216.5 L66 216.5 L66 221.4 L164.6 221.4 L164.6 221.4" fill="none" stroke="#6cb455" stroke-width="1.2" stroke-linejoin="miter"/>
<line x1="71.7" y1="220.4" x2="71.7" y2="222.5" stroke="#6cb455" stroke-width="1.3"/>
<line x1="74" y1="220.4" x2="74" y2="222.5" stroke="#6cb455" stroke-width="1.3"/>
<line x1="78.1" y1="220.4" x2="78.1" y2="222.5" stroke="#6cb455" stroke-width="1.3"/>
<line x1="84.4" y1="220.4" x2="84.4" y2="222.5" stroke="#6cb455" stroke-width="1.3"/>
<line x1="86.7" y1="220.4" x2="86.7" y2="222.5" stroke="#6cb455" stroke-width="1.3"/>
<line x1="88.5" y1="220.4" x2="88.5" y2="222.5" stroke="#6cb455" stroke-width="1.3"/>
<line x1="90.8" y1="220.4" x2="90.8" y2="222.5" stroke="#6cb455" stroke-width="1.3"/>
<line x1="97.1" y1="220.4" x2="97.1" y2="222.5" stroke="#6cb455" stroke-width="1.3"/>
<line x1="104.8" y1="220.4" x2="104.8" y2="222.5" stroke="#6cb455" stroke-width="1.3"/>
<line x1="147.5" y1="220.4" x2="147.5" y2="222.5" stroke="#6cb455" stroke-width="1.3"/>
<line x1="164.6" y1="220.4" x2="164.6" y2="222.5" stroke="#6cb455" stroke-width="1.3"/>
<line x1="116.9" y1="254.9" x2="131" y2="254.9" stroke="#2f4f8f" stroke-width="1.3"/>
<line x1="116.9" y1="261.8" x2="131" y2="261.8" stroke="#6cb455" stroke-width="1.3"/>
<text x="134.36" y="256.8" font-size="6.4" fill="#231f20" stroke="#231f20" stroke-width="0.2" textLength="9.93" lengthAdjust="spacingAndGlyphs">TKI</text>
<text x="133.95" y="263.8" font-size="6.4" fill="#231f20" stroke="#231f20" stroke-width="0.2" textLength="21.38" lengthAdjust="spacingAndGlyphs">No-TKI</text>
<text x="185.33" y="165.1" font-size="11.4" font-weight="bold" fill="#000" stroke="#000" stroke-width="0.4" textLength="6.66" lengthAdjust="spacingAndGlyphs">E</text>
<line x1="214.49" y1="184.2" x2="214.49" y2="276" stroke="#141414" stroke-width="1.3"/>
<line x1="213.89" y1="275.34" x2="340.8" y2="275.34" stroke="#141414" stroke-width="1.3"/>
<line x1="211.4" y1="272.6" x2="214.49" y2="272.6" stroke="#231f20" stroke-width="1"/>
<text x="205.7" y="274.5" font-size="6.6" fill="#231f20" stroke="#231f20" stroke-width="0.2" textLength="3.12" lengthAdjust="spacingAndGlyphs">0</text>
<line x1="211.4" y1="264.06" x2="214.49" y2="264.06" stroke="#231f20" stroke-width="1"/>
<text x="204.2" y="265.95" font-size="6.6" fill="#231f20" stroke="#231f20" stroke-width="0.2" textLength="4.68" lengthAdjust="spacingAndGlyphs">.1</text>
<line x1="211.4" y1="255.51" x2="214.49" y2="255.51" stroke="#231f20" stroke-width="1"/>
<text x="204.2" y="257.41" font-size="6.6" fill="#231f20" stroke="#231f20" stroke-width="0.2" textLength="4.68" lengthAdjust="spacingAndGlyphs">.2</text>
<line x1="211.4" y1="246.97" x2="214.49" y2="246.97" stroke="#231f20" stroke-width="1"/>
<text x="204.17" y="248.87" font-size="6.6" fill="#231f20" stroke="#231f20" stroke-width="0.2" textLength="4.68" lengthAdjust="spacingAndGlyphs">.3</text>
<line x1="211.4" y1="238.42" x2="214.49" y2="238.42" stroke="#231f20" stroke-width="1"/>
<text x="204.09" y="240.32" font-size="6.6" fill="#231f20" stroke="#231f20" stroke-width="0.2" textLength="4.68" lengthAdjust="spacingAndGlyphs">.4</text>
<line x1="211.4" y1="229.88" x2="214.49" y2="229.88" stroke="#231f20" stroke-width="1"/>
<text x="204.16" y="231.78" font-size="6.6" fill="#231f20" stroke="#231f20" stroke-width="0.2" textLength="4.68" lengthAdjust="spacingAndGlyphs">.5</text>
<line x1="211.4" y1="221.33" x2="214.49" y2="221.33" stroke="#231f20" stroke-width="1"/>
<text x="204.17" y="223.23" font-size="6.6" fill="#231f20" stroke="#231f20" stroke-width="0.2" textLength="4.68" lengthAdjust="spacingAndGlyphs">.6</text>
<line x1="211.4" y1="212.79" x2="214.49" y2="212.79" stroke="#231f20" stroke-width="1"/>
<text x="204.2" y="214.69" font-size="6.6" fill="#231f20" stroke="#231f20" stroke-width="0.2" textLength="4.68" lengthAdjust="spacingAndGlyphs">.7</text>
<line x1="211.4" y1="204.24" x2="214.49" y2="204.24" stroke="#231f20" stroke-width="1"/>
<text x="204.17" y="206.14" font-size="6.6" fill="#231f20" stroke="#231f20" stroke-width="0.2" textLength="4.68" lengthAdjust="spacingAndGlyphs">.8</text>
<line x1="211.4" y1="195.7" x2="214.49" y2="195.7" stroke="#231f20" stroke-width="1"/>
<text x="204.19" y="197.6" font-size="6.6" fill="#231f20" stroke="#231f20" stroke-width="0.2" textLength="4.68" lengthAdjust="spacingAndGlyphs">.9</text>
<line x1="211.4" y1="187.15" x2="214.49" y2="187.15" stroke="#231f20" stroke-width="1"/>
<text x="205.75" y="189.05" font-size="6.6" fill="#231f20" stroke="#231f20" stroke-width="0.2" textLength="3.12" lengthAdjust="spacingAndGlyphs">1</text>
<line x1="216.5" y1="275.6" x2="216.5" y2="278.6" stroke="#231f20" stroke-width="1"/>
<text x="214.86" y="287.4" font-size="7.2" fill="#231f20" stroke="#231f20" stroke-width="0.2" textLength="3.28" lengthAdjust="spacingAndGlyphs">0</text>
<line x1="233.89" y1="275.6" x2="233.89" y2="278.6" stroke="#231f20" stroke-width="1"/>
<text x="230.61" y="287.4" font-size="7.2" fill="#231f20" stroke="#231f20" stroke-width="0.2" textLength="6.57" lengthAdjust="spacingAndGlyphs">12</text>
<line x1="251.28" y1="275.6" x2="251.28" y2="278.6" stroke="#231f20" stroke-width="1"/>
<text x="248" y="287.4" font-size="7.2" fill="#231f20" stroke="#231f20" stroke-width="0.2" textLength="6.57" lengthAdjust="spacingAndGlyphs">24</text>
<line x1="268.67" y1="275.6" x2="268.67" y2="278.6" stroke="#231f20" stroke-width="1"/>
<text x="265.39" y="287.4" font-size="7.2" fill="#231f20" stroke="#231f20" stroke-width="0.2" textLength="6.57" lengthAdjust="spacingAndGlyphs">36</text>
<line x1="286.06" y1="275.6" x2="286.06" y2="278.6" stroke="#231f20" stroke-width="1"/>
<text x="282.78" y="287.4" font-size="7.2" fill="#231f20" stroke="#231f20" stroke-width="0.2" textLength="6.57" lengthAdjust="spacingAndGlyphs">48</text>
<line x1="303.45" y1="275.6" x2="303.45" y2="278.6" stroke="#231f20" stroke-width="1"/>
<text x="300.17" y="287.4" font-size="7.2" fill="#231f20" stroke="#231f20" stroke-width="0.2" textLength="6.57" lengthAdjust="spacingAndGlyphs">60</text>
<line x1="320.84" y1="275.6" x2="320.84" y2="278.6" stroke="#231f20" stroke-width="1"/>
<text x="317.56" y="287.4" font-size="7.2" fill="#231f20" stroke="#231f20" stroke-width="0.2" textLength="6.57" lengthAdjust="spacingAndGlyphs">72</text>
<line x1="338.23" y1="275.6" x2="338.23" y2="278.6" stroke="#231f20" stroke-width="1"/>
<text x="334.95" y="287.4" font-size="7.2" fill="#231f20" stroke="#231f20" stroke-width="0.2" textLength="6.57" lengthAdjust="spacingAndGlyphs">84</text>
<text x="218.55" y="299.1" font-size="8.6" fill="#231f20" stroke="#231f20" stroke-width="0.2" textLength="118.97" lengthAdjust="spacingAndGlyphs">Time from TKI discontinuation (months)</text>
<text transform="translate(198.5,280.66) rotate(-90)" x="0" y="0" font-size="9.3" fill="#231f20" stroke="#231f20" stroke-width="0.12" textLength="99.87" lengthAdjust="spacingAndGlyphs">Cumulative incidence of relapse</text>
<path d="M219.9 272.2 L220.5 269.1 L221.7 267.9 L222.9 267.7 L224.5 267.3 L225.7 266.1 L236.8 266.1 L236.8 264.3 L238 262.5 L241.3 262.5 L241.5 257 L244.8 257 L245 254.6 L247.3 254.6 L247.5 250.3 L326.8 250.3" fill="none" stroke="#36559a" stroke-width="1.35" stroke-linejoin="miter"/>
<path d="M219.9 272.4 L221 271.9 L223.5 271.6 L236.8 271.4 L239.3 270.9 L241.1 270.4 L244.1 270.1 L246.6 269.5 L248.4 269 L326.8 269" fill="none" stroke="#b81c45" stroke-width="1.35" stroke-linejoin="miter"/>
<text x="279.25" y="184.8" font-size="6.8" fill="#3d5ca3" stroke="#3d5ca3" stroke-width="0.2" textLength="35.98" lengthAdjust="spacingAndGlyphs">TKI duration</text>
<line x1="270.8" y1="189.8" x2="284.8" y2="189.8" stroke="#36559a" stroke-width="1.4"/>
<line x1="270.8" y1="196.7" x2="284.8" y2="196.7" stroke="#b81c45" stroke-width="1.4"/>
<text x="287.9" y="192.1" font-size="6.8" fill="#231f20" stroke="#231f20" stroke-width="0.2" textLength="35.01" lengthAdjust="spacingAndGlyphs">&lt;24 months</text>
<text x="287.91" y="199.2" font-size="6.8" fill="#231f20" stroke="#231f20" stroke-width="0.2" textLength="34.99" lengthAdjust="spacingAndGlyphs">&gt;24 months</text>
<text x="357.15" y="165.4" font-size="11.2" font-weight="bold" fill="#000" stroke="#000" stroke-width="0.4" textLength="6.86" lengthAdjust="spacingAndGlyphs">F</text>
<line x1="386.4" y1="188.2" x2="386.4" y2="276" stroke="#141414" stroke-width="1.3"/>
<line x1="385.8" y1="275.42" x2="490.8" y2="275.42" stroke="#141414" stroke-width="1.3"/>
<line x1="383.5" y1="275.2" x2="386.4" y2="275.2" stroke="#231f20" stroke-width="1"/>
<text x="376.44" y="277.1" font-size="7" fill="#231f20" stroke="#231f20" stroke-width="0.2" textLength="3.5" lengthAdjust="spacingAndGlyphs">0</text>
<line x1="383.5" y1="258.36" x2="386.4" y2="258.36" stroke="#231f20" stroke-width="1"/>
<text x="372.94" y="260.26" font-size="7" fill="#231f20" stroke="#231f20" stroke-width="0.2" textLength="7.01" lengthAdjust="spacingAndGlyphs">20</text>
<line x1="383.5" y1="241.52" x2="386.4" y2="241.52" stroke="#231f20" stroke-width="1"/>
<text x="372.94" y="243.42" font-size="7" fill="#231f20" stroke="#231f20" stroke-width="0.2" textLength="7.01" lengthAdjust="spacingAndGlyphs">40</text>
<line x1="383.5" y1="224.68" x2="386.4" y2="224.68" stroke="#231f20" stroke-width="1"/>
<text x="372.94" y="226.58" font-size="7" fill="#231f20" stroke="#231f20" stroke-width="0.2" textLength="7.01" lengthAdjust="spacingAndGlyphs">60</text>
<line x1="383.5" y1="207.84" x2="386.4" y2="207.84" stroke="#231f20" stroke-width="1"/>
<text x="372.94" y="209.74" font-size="7" fill="#231f20" stroke="#231f20" stroke-width="0.2" textLength="7.01" lengthAdjust="spacingAndGlyphs">80</text>
<line x1="383.5" y1="191" x2="386.4" y2="191" stroke="#231f20" stroke-width="1"/>
<text x="369.43" y="192.9" font-size="7" fill="#231f20" stroke="#231f20" stroke-width="0.2" textLength="10.51" lengthAdjust="spacingAndGlyphs">100</text>
<rect x="396.8" y="191" width="21" height="14.31" fill="#2f4a7f"/>
<rect x="396.8" y="205.31" width="21" height="69.89" fill="#a5002d"/>
<line x1="407.3" y1="275.1" x2="407.3" y2="278.6" stroke="#231f20" stroke-width="1"/>
<text x="401.35" y="251.3" font-size="7" fill="#f4e6ea" stroke="#f4e6ea" stroke-width="0" textLength="11.91" lengthAdjust="spacingAndGlyphs">83%</text>
<text transform="translate(410.8,285.7) rotate(-45)" x="0" y="0" font-size="7.2" fill="#231f20" stroke="#231f20" stroke-width="0.12" text-anchor="end" textLength="35" lengthAdjust="spacingAndGlyphs">2001 - 2006</text>
<rect x="428" y="191" width="21" height="25.26" fill="#2f4a7f"/>
<rect x="428" y="216.26" width="21" height="58.94" fill="#a5002d"/>
<line x1="438.5" y1="275.1" x2="438.5" y2="278.6" stroke="#231f20" stroke-width="1"/>
<text x="432.55" y="251.3" font-size="7" fill="#f4e6ea" stroke="#f4e6ea" stroke-width="0" textLength="11.91" lengthAdjust="spacingAndGlyphs">70%</text>
<text transform="translate(442,285.7) rotate(-45)" x="0" y="0" font-size="7.2" fill="#231f20" stroke="#231f20" stroke-width="0.12" text-anchor="end" textLength="35" lengthAdjust="spacingAndGlyphs">2007 - 2012</text>
<rect x="459.2" y="191" width="21" height="35.36" fill="#2f4a7f"/>
<rect x="459.2" y="226.36" width="21" height="48.84" fill="#a5002d"/>
<line x1="469.7" y1="275.1" x2="469.7" y2="278.6" stroke="#231f20" stroke-width="1"/>
<text x="463.75" y="251.3" font-size="7" fill="#f4e6ea" stroke="#f4e6ea" stroke-width="0" textLength="11.91" lengthAdjust="spacingAndGlyphs">58%</text>
<text transform="translate(473.2,285.7) rotate(-45)" x="0" y="0" font-size="7.2" fill="#231f20" stroke="#231f20" stroke-width="0.12" text-anchor="end" textLength="35" lengthAdjust="spacingAndGlyphs">2013 - 2018</text>
<text x="420.65" y="321" font-size="8.9" fill="#231f20" stroke="#231f20" stroke-width="0.2" textLength="35.69" lengthAdjust="spacingAndGlyphs">Time period</text>
<text transform="translate(364.1,248.54) rotate(-90)" x="0" y="0" font-size="8.6" fill="#231f20" stroke="#231f20" stroke-width="0.12" textLength="33.84" lengthAdjust="spacingAndGlyphs">Percentage</text>
<rect x="484.8" y="220.6" width="8.7" height="3.9" fill="#2f4a7f"/>
<rect x="484.8" y="230.9" width="8.7" height="3.8" fill="#a5002d"/>
<text x="496.28" y="224.5" font-size="6.4" fill="#231f20" stroke="#231f20" stroke-width="0.2" textLength="16.54" lengthAdjust="spacingAndGlyphs">CR2+</text>
<text x="496.3" y="234.5" font-size="6.4" fill="#231f20" stroke="#231f20" stroke-width="0.2" textLength="12" lengthAdjust="spacingAndGlyphs">CR1</text>
</svg></body></html>
